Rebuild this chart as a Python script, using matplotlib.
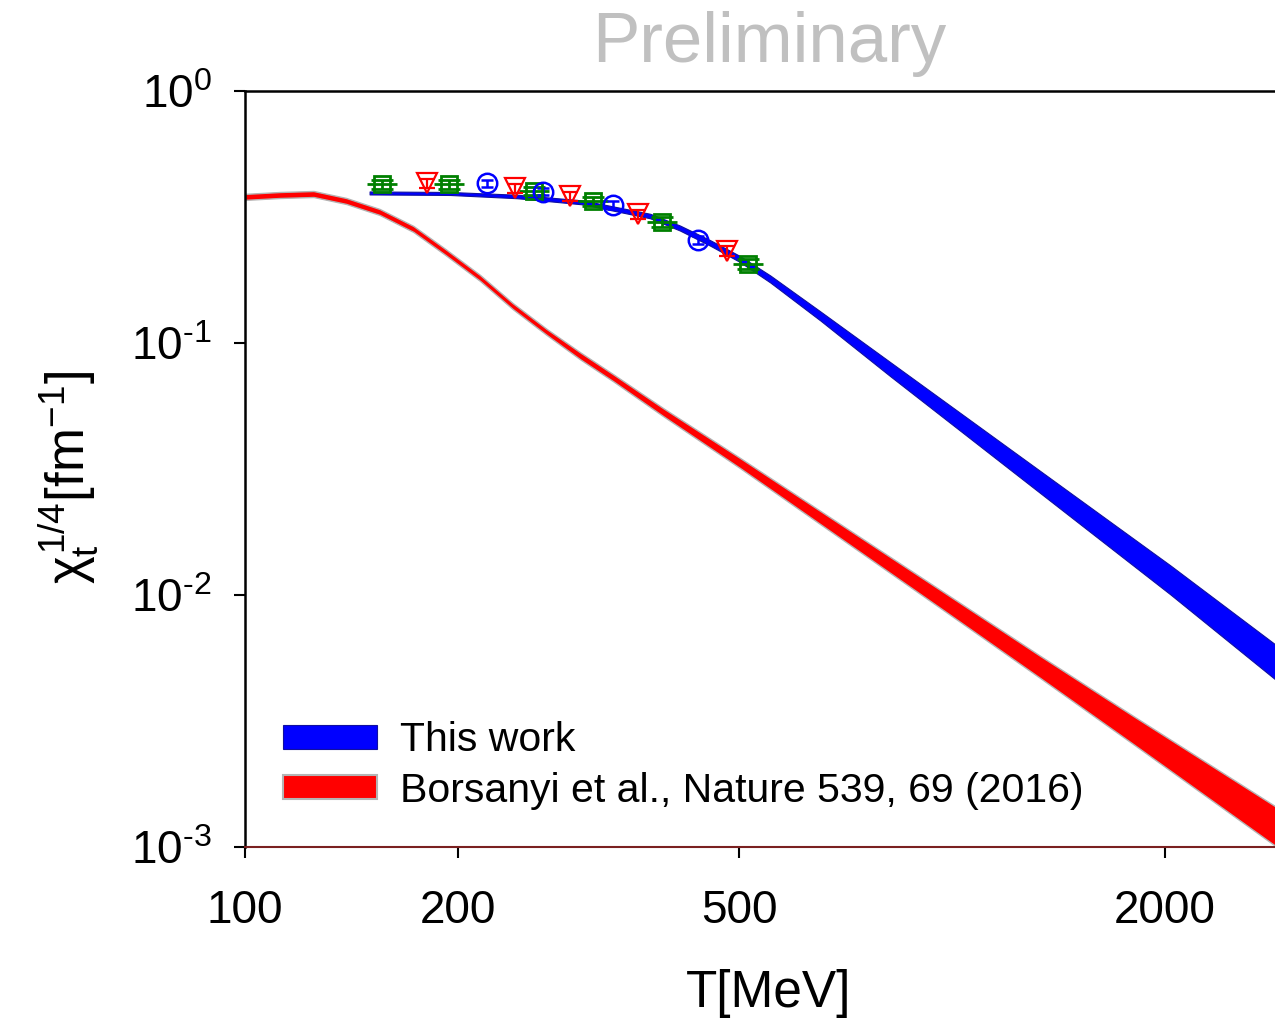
import numpy as np
import matplotlib
matplotlib.use("Agg")
import matplotlib.pyplot as plt
from matplotlib.patches import Patch

plt.rcParams['font.family'] = ['Liberation Sans', 'DejaVu Sans']
plt.rcParams['mathtext.fontset'] = 'custom'
plt.rcParams['mathtext.rm'] = 'Liberation Sans'
plt.rcParams['mathtext.it'] = 'Liberation Sans'
plt.rcParams['mathtext.bf'] = 'Liberation Sans:bold'

# ---- data ----
# this work (blue band)
T_blue = [150, 195, 242.5, 301, 374, 412, 455, 501, 553, 651, 817, 1248, 2034, 2864]
blue_lo = [0.3886, 0.3867, 0.3754, 0.3546, 0.3125, 0.2795, 0.2431, 0.2096,
           0.1738, 0.1228, 0.0739, 0.02926, 0.01006, 0.00462]
blue_hi = [0.3994, 0.3974, 0.3876, 0.3677, 0.3256, 0.2926, 0.2556, 0.2214,
           0.1853, 0.1334, 0.0840, 0.03544, 0.01311, 0.00636]

# Borsanyi et al. (red band)
T_red = [100, 112, 125, 139, 155, 173, 192, 215, 239, 267, 298, 332, 390, 501,
         694, 962, 1332, 1803, 2864]
red_lo = [0.3697, 0.3762, 0.3796, 0.3562, 0.3221, 0.2758, 0.2235, 0.1762, 0.1364,
          0.1076, 0.0860, 0.0703, 0.0513, 0.0319, 0.01684, 0.00888, 0.00468,
          0.00256, 0.00101]
red_hi = [0.3906, 0.3974, 0.4010, 0.3763, 0.3403, 0.2914, 0.2361, 0.1861, 0.1441,
          0.1137, 0.0917, 0.0750, 0.0552, 0.0350, 0.01914, 0.01047, 0.00573,
          0.00331, 0.00145]

# lattice points
T_green = [156, 194, 256, 310, 389, 514]
chi_green = [0.426, 0.426, 0.401, 0.365, 0.302, 0.206]
err_green = [0.017, 0.017, 0.016, 0.015, 0.013, 0.009]

T_tri = [181, 241, 288, 360, 481]
chi_tri = [0.430, 0.412, 0.382, 0.324, 0.232]
err_tri = [0.017, 0.017, 0.016, 0.014, 0.011]

T_circ = [220, 264, 331, 437]
chi_circ = [0.431, 0.399, 0.353, 0.256]
err_circ = [0.014, 0.013, 0.012, 0.009]

xticks = [100, 200, 500, 2000]
xtick_labels = ['100', '200', '500', '2000']
yticks = [1e-3, 1e-2, 1e-1, 1e0]
ytick_labels = [r'$10^{\text{-}3}$', r'$10^{\text{-}2}$', r'$10^{\text{-}1}$', r'$10^{0}$']

labels = ['This work', 'Borsanyi et al., Nature 539, 69 (2016)']

# ---- figure ----
fig = plt.figure(figsize=(12.75, 10.19), dpi=100)
ax = fig.add_axes([0.1922, 0.1688, 0.8078, 0.7419])

ax.fill_between(T_red, red_lo, red_hi, facecolor='#ff0000',
                edgecolor='#b4b4b4', linewidth=1.0, zorder=2)
ax.fill_between(T_blue, blue_lo, blue_hi, facecolor='#0000ff',
                edgecolor='#1010a0', linewidth=0.8, zorder=3)

ax.errorbar(T_green, chi_green, yerr=err_green, fmt='s', ms=11, mfc='none',
            mec='#008000', mew=2.0, ecolor='#008000', elinewidth=2.0,
            capsize=8, capthick=2.0, zorder=5)
ax.plot(T_green, chi_green, ls='none', marker='_', ms=21, mew=2.0,
        color='#008000', zorder=5)
ax.errorbar(T_tri, chi_tri, yerr=err_tri, fmt='v', ms=14, mfc='none',
            mec='#ff0000', mew=1.6, ecolor='#ff0000', elinewidth=1.6,
            capsize=6, capthick=1.6, zorder=5)
ax.errorbar(T_circ, chi_circ, yerr=err_circ, fmt='o', ms=14, mfc='none',
            mec='#0000ff', mew=1.8, ecolor='#0000ff', elinewidth=1.8,
            capsize=4, capthick=1.8, zorder=5)

ax.set_xscale('log')
ax.set_yscale('log')
ax.set_xlim(100, 2860)
ax.set_ylim(1e-3, 1)
ax.minorticks_off()
ax.set_xticks(xticks)
ax.set_xticklabels(xtick_labels)
ax.set_yticks(yticks)
ax.set_yticklabels(ytick_labels)
ax.tick_params(axis='both', direction='out', length=8, width=1.5,
               labelsize=33)
ax.tick_params(axis='x', pad=22)
ax.tick_params(axis='y', pad=16)

for s in ['left', 'top']:
    ax.spines[s].set_linewidth(1.8)
ax.spines['right'].set_visible(False)
ax.spines['bottom'].set_linewidth(1.5)
ax.spines['bottom'].set_color('#7a2020')

fig.text(0.603, 0.939, 'Preliminary', fontsize=51, color='#c0c0c0',
         ha='center', va='baseline')
fig.text(0.603, 0.012, 'T[MeV]', fontsize=37, ha='center', va='baseline')
fig.text(0.054, 0.531, r'$\chi_t^{1/4}$[fm$^{-1}$]', fontsize=38,
         rotation=90, ha='center', va='center')

handles = [Patch(facecolor='#0000ff', edgecolor='#1010a0', linewidth=0.8),
           Patch(facecolor='#ff0000', edgecolor='#b4b4b4', linewidth=1.5)]
fig.legend(handles, labels, loc='upper left', bbox_to_anchor=(0.222, 0.292),
           frameon=False, fontsize=29.5, handlelength=2.3, handleheight=0.52,
           handletextpad=0.55, labelspacing=0.3, borderpad=0, borderaxespad=0)

fig.savefig('out.png', dpi=100)
